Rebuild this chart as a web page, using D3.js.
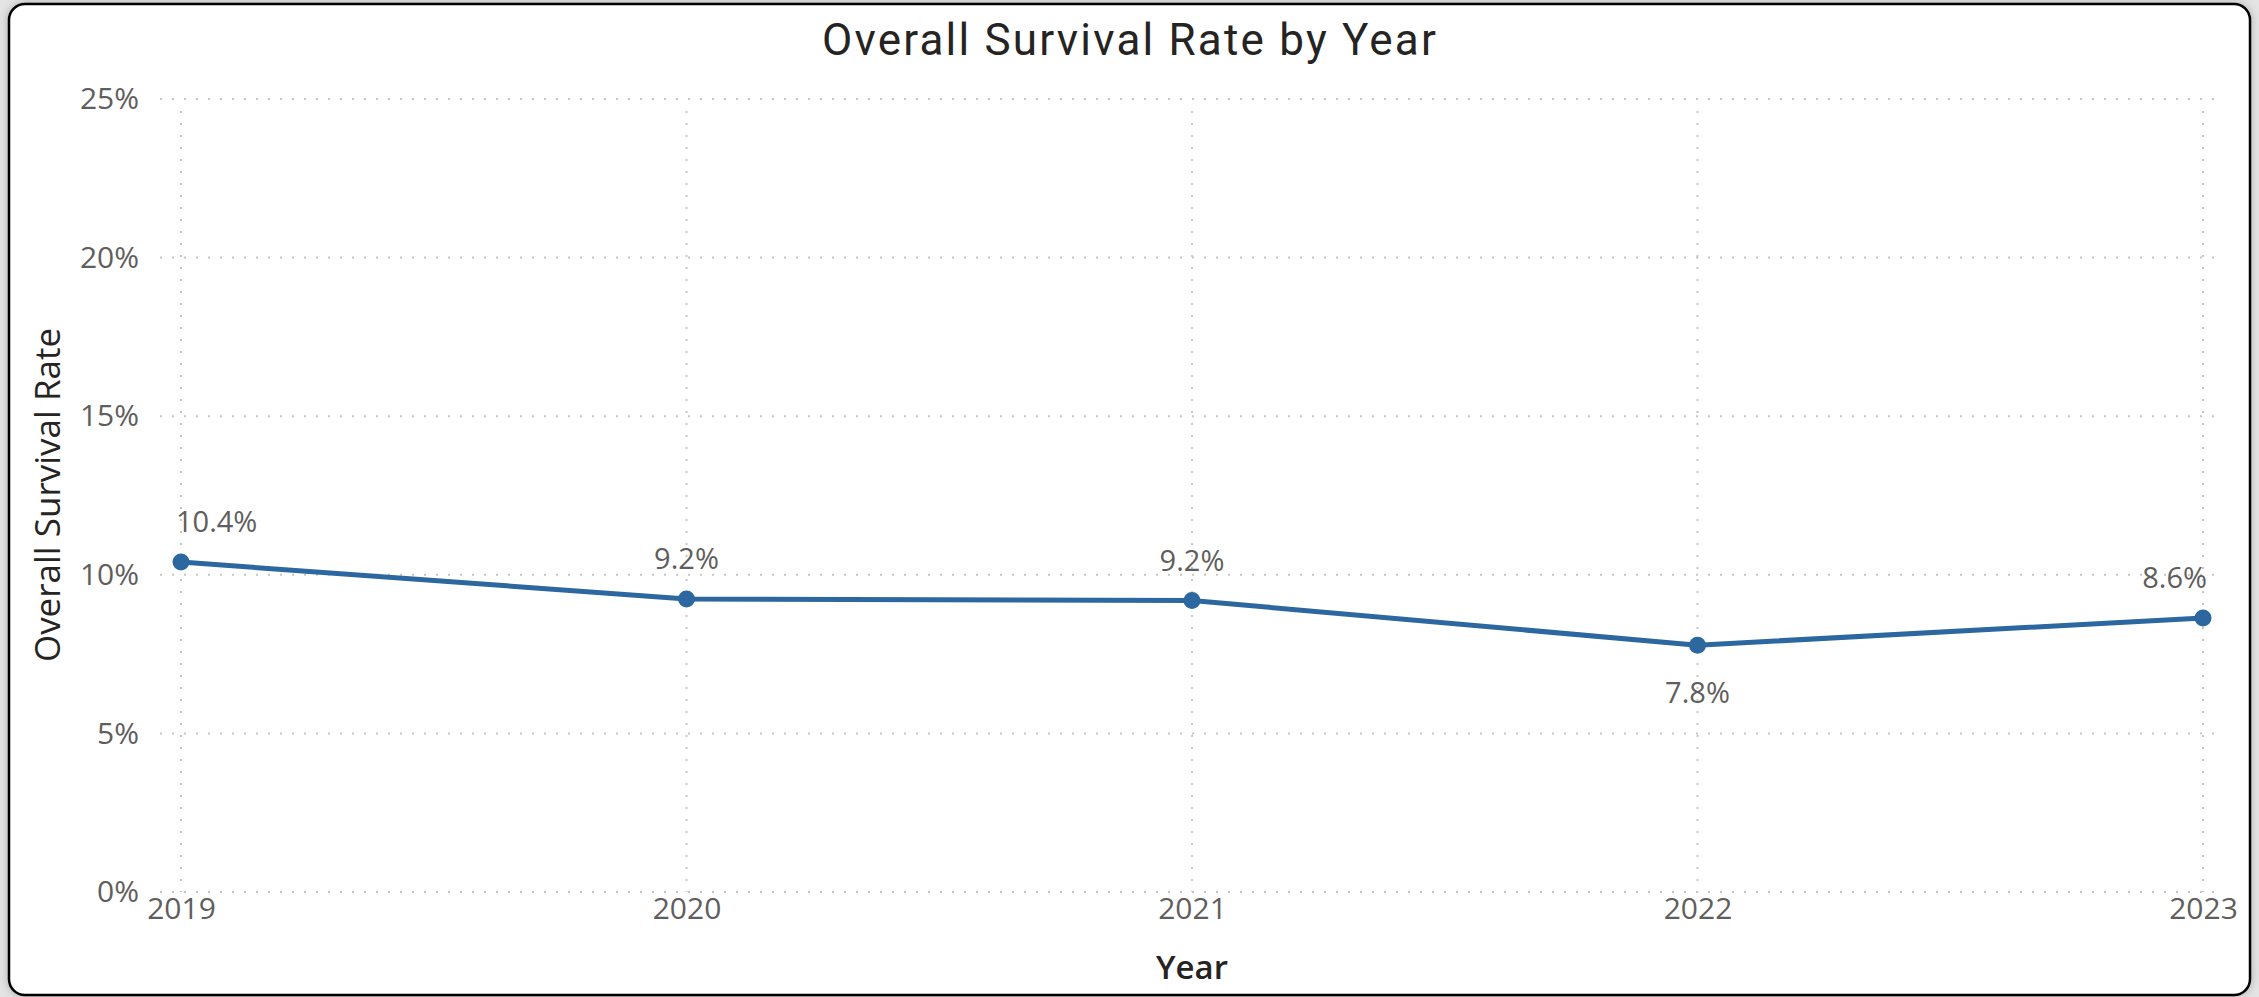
<!DOCTYPE html>
<html>
<head>
<meta charset="utf-8">
<script src="https://cdn.jsdelivr.net/npm/d3@7"></script>
<style>
    html, body { margin: 0; padding: 0; background: #e4e4e4; overflow: hidden; }
    svg { display: block; }
</style>
</head>
<body>
<div id="chart"></div>
<script>
// --- Data ---
const years = ["2019", "2020", "2021", "2022", "2023"];
const survivalRates = [10.4, 9.24, 9.19, 7.78, 8.64];
const labelSides = ["above", "above", "above", "below", "above"];
const yTicks = [0, 5, 10, 15, 20, 25];

const width = 2259;
const height = 997;

const svg = d3.select("#chart").append("svg")
    .attr("width", width)
    .attr("height", height);

// --- Card with shadow ---
const defs = svg.append("defs");
const shadow = defs.append("filter").attr("id", "shadow")
    .attr("x", "-5%").attr("y", "-5%").attr("width", "110%").attr("height", "110%");
shadow.append("feGaussianBlur").attr("in", "SourceAlpha").attr("stdDeviation", 4);
shadow.append("feOffset").attr("dx", 0).attr("dy", 0).attr("result", "blur");
shadow.append("feFlood").attr("flood-color", "#000").attr("flood-opacity", 0.25);
shadow.append("feComposite").attr("in2", "blur").attr("operator", "in");
const merge = shadow.append("feMerge");
merge.append("feMergeNode");
merge.append("feMergeNode").attr("in", "SourceGraphic");

svg.append("rect")
    .attr("x", 9).attr("y", 4)
    .attr("width", 2241).attr("height", 991)
    .attr("rx", 16).attr("ry", 16)
    .attr("fill", "#fff")
    .attr("stroke", "#000")
    .attr("stroke-width", 2.5)
    .attr("filter", "url(#shadow)");

// --- Scales ---
const x = d3.scalePoint().domain(years).range([181, 2203]);
const y = d3.scaleLinear().domain([0, 25]).range([892, 99]);

const gridColor = "#c8c6c4";

// horizontal gridlines
svg.append("g").selectAll("line")
    .data(yTicks)
    .enter().append("line")
    .attr("x1", 160).attr("x2", 2214)
    .attr("y1", d => y(d)).attr("y2", d => y(d))
    .attr("stroke", gridColor)
    .attr("stroke-width", 2)
    .attr("stroke-dasharray", "2,10");

// vertical gridlines
svg.append("g").selectAll("line")
    .data(years)
    .enter().append("line")
    .attr("x1", d => x(d)).attr("x2", d => x(d))
    .attr("y1", y(25) + 12).attr("y2", y(0))
    .attr("stroke", gridColor)
    .attr("stroke-width", 2)
    .attr("stroke-dasharray", "2,10");

// --- Axes (text only, Power BI style) ---
const yAxis = svg.append("g")
    .attr("transform", "translate(139,0)")
    .call(d3.axisLeft(y).tickValues(yTicks).tickFormat(d => d + "%").tickSize(0).tickPadding(0));
yAxis.select(".domain").remove();
yAxis.selectAll("text")
    .attr("font-family", "'Open Sans', 'Noto Sans', sans-serif")
    .attr("font-size", 30)
    .attr("fill", "#605e5c");

const xAxis = svg.append("g")
    .attr("transform", "translate(0,898)")
    .call(d3.axisBottom(x).tickSize(0).tickPadding(0));
xAxis.select(".domain").remove();
xAxis.selectAll("text")
    .attr("dy", "0.71em")
    .attr("font-family", "'Open Sans', 'Noto Sans', sans-serif")
    .attr("font-size", 30)
    .attr("fill", "#605e5c");

// --- Line ---
const points = years.map((yr, i) => ({ year: yr, value: survivalRates[i], side: labelSides[i] }));

const lineColor = "#2c67a0";

svg.append("path")
    .datum(points)
    .attr("fill", "none")
    .attr("stroke", lineColor)
    .attr("stroke-width", 5)
    .attr("stroke-linejoin", "round")
    .attr("d", d3.line().x(d => x(d.year)).y(d => y(d.value)));

svg.append("g").selectAll("circle")
    .data(points)
    .enter().append("circle")
    .attr("cx", d => x(d.year))
    .attr("cy", d => y(d.value))
    .attr("r", 8.5)
    .attr("fill", lineColor);

// --- Data labels (kept inside the plot area) ---
const labels = svg.append("g").selectAll("text")
    .data(points)
    .enter().append("text")
    .attr("text-anchor", "middle")
    .attr("dy", "0.35em")
    .attr("font-family", "'Open Sans', 'Noto Sans', sans-serif")
    .attr("font-size", 29)
    .attr("fill", "#605e5c")
    .attr("y", d => y(d.value) + (d.side === "above" ? -40 : 48))
    .text(d => d.value.toFixed(1) + "%");

labels.each(function(d) {
    const w = this.getComputedTextLength();
    const cx = Math.max(176 + w / 2, Math.min(2207 - w / 2, x(d.year)));
    d3.select(this).attr("x", cx);
});

// --- Titles ---
svg.append("text")
    .attr("x", 1130).attr("y", 40)
    .attr("dy", "0.35em")
    .attr("text-anchor", "middle")
    .attr("font-family", "Roboto, sans-serif")
    .attr("font-size", 44)
    .attr("letter-spacing", 2.2)
    .attr("fill", "#252423")
    .text("Overall Survival Rate by Year");

svg.append("text")
    .attr("transform", "translate(48,495) rotate(-90)")
    .attr("dy", "0.35em")
    .attr("text-anchor", "middle")
    .attr("font-family", "'Open Sans', 'Noto Sans', sans-serif")
    .attr("font-size", 35)
    .attr("font-weight", 500)
    .attr("fill", "#252423")
    .text("Overall Survival Rate");

svg.append("text")
    .attr("x", 1192).attr("y", 967)
    .attr("dy", "0.35em")
    .attr("text-anchor", "middle")
    .attr("font-family", "'Open Sans', 'Noto Sans', sans-serif")
    .attr("font-size", 33)
    .attr("font-weight", 600)
    .attr("fill", "#252423")
    .text("Year");
</script>
</body>
</html>
